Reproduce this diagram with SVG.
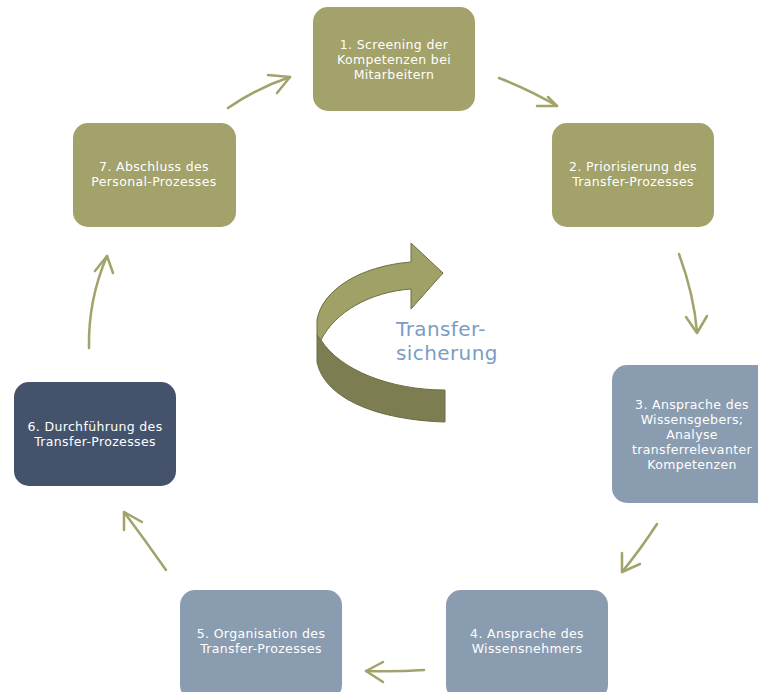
<svg xmlns="http://www.w3.org/2000/svg" width="758" height="692" viewBox="0 0 758 692">
<style>
.olive{fill:#a2a26a}
.blue{fill:#8a9cb0}
.dark{fill:#44536b}
.t{font-family:"DejaVu Sans","Open Sans",sans-serif;font-size:12.5px;letter-spacing:0.35px;fill:#ffffff;text-anchor:middle}
.c{fill:none;stroke:#a2a26a;stroke-width:2.5;stroke-linecap:round;stroke-linejoin:round}
.big{font-family:"DejaVu Sans","Open Sans",sans-serif;font-size:20px;fill:#7b9dc4;letter-spacing:0.4px}
</style>
<rect width="758" height="692" fill="#ffffff"/>
<g id="connectors">
<path class="c" d="M499 78 Q530 90 557 106"/><path class="c" d="M537 106 L557 106 L548 97"/>
<path class="c" d="M679 254 Q694 295 697 332"/><path class="c" d="M686 317 L697 333 L707 316"/>
<path class="c" d="M657 524 Q640 550 622 572"/><path class="c" d="M622 553 L622 572 L640 564"/>
<path class="c" d="M424 670 Q395 672 366 671"/><path class="c" d="M383 662 L366 671 L383 682"/>
<path class="c" d="M166 570 Q145 540 124 512"/><path class="c" d="M124 530 L124 512 L142 522"/>
<path class="c" d="M89 348 Q88 300 107 256"/><path class="c" d="M95 271 L107 256 L113 273"/>
<path class="c" d="M228 108 Q257 88 290 77"/><path class="c" d="M268 75 L290 77 L277 93"/>
</g>
<g id="n1"><rect class="olive" x="313" y="7" width="162" height="104" rx="15"/>
<text class="t" x="394" y="49">1. Screening der</text><text class="t" x="394" y="64">Kompetenzen bei</text><text class="t" x="394" y="79">Mitarbeitern</text></g>
<g id="n2"><rect class="olive" x="552" y="123" width="162" height="104" rx="15"/>
<text class="t" x="633" y="171">2. Priorisierung des</text><text class="t" x="633" y="186">Transfer-Prozesses</text></g>
<g id="n3"><rect class="blue" x="612" y="365" width="162" height="138" rx="15"/>
<text class="t" x="692" y="409">3. Ansprache des</text><text class="t" x="692" y="424">Wissensgebers;</text><text class="t" x="692" y="439">Analyse</text><text class="t" x="692" y="454">transferrelevanter</text><text class="t" x="692" y="469">Kompetenzen</text></g>
<g id="n4"><rect class="blue" x="446" y="590" width="162" height="110" rx="15"/>
<text class="t" x="527" y="638">4. Ansprache des</text><text class="t" x="527" y="653">Wissensnehmers</text></g>
<g id="n5"><rect class="blue" x="180" y="590" width="162" height="110" rx="15"/>
<text class="t" x="261" y="638">5. Organisation des</text><text class="t" x="261" y="653">Transfer-Prozesses</text></g>
<g id="n6"><rect class="dark" x="14" y="382" width="162" height="104" rx="15"/>
<text class="t" x="95" y="431">6. Durchführung des</text><text class="t" x="95" y="446">Transfer-Prozesses</text></g>
<g id="n7"><rect class="olive" x="73" y="123" width="163" height="104" rx="15"/>
<text class="t" x="154" y="171">7. Abschluss des</text><text class="t" x="154" y="186">Personal-Prozesses</text></g>
<g id="center">
<path d="M317 335 L321 340 C340 370 390 390 445 390 L445 422 C380 420 325 400 317 362 Z" fill="#7c7d50" stroke="#6c6d44" stroke-width="1"/>
<path d="M411 262 C360 266 322 290 317 320 L317 335 L321 340 C335 312 370 292 411 289 L411 309 L443 273 L411 243 Z" fill="#a0a167" stroke="#6c6d44" stroke-width="1"/>
<text class="big" x="396" y="336" letter-spacing="1.2">Transfer-</text><text class="big" x="396" y="360">sicherung</text>
</g>
</svg>
